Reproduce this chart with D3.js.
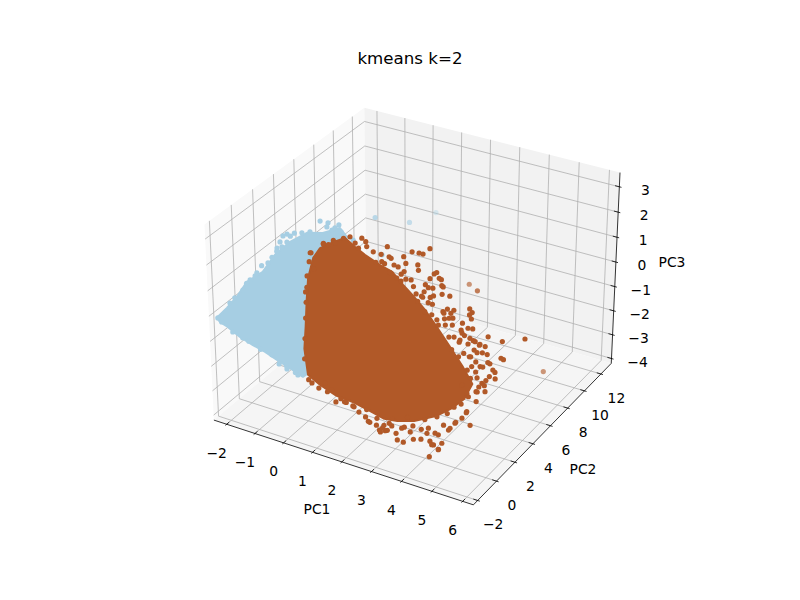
<!DOCTYPE html>
<html>
<head>
<meta charset="utf-8">
<script src="https://cdn.jsdelivr.net/npm/d3@7/dist/d3.min.js"></script>
<style>
html,body{margin:0;padding:0;background:#fff}
svg{display:block}
text{font-family:"DejaVu Sans";fill:#000}
</style>
</head>
<body>
<svg id="chart" width="800" height="600"></svg>
<script>
// ---------- chart text and ticks ----------
const chartTitle = "kmeans k=2";
const pc1Ticks = [-2,-1,0,1,2,3,4,5,6];
const pc2Ticks = [-2,0,2,4,6,8,10,12];
const pc3Ticks = [-4,-3,-2,-1,0,1,2,3];
const pc1Limits = [-2.28,6.17];
const pc2Limits = [-2.13,12.97];
const pc3Limits = [-4.05,3.40];

// ---------- cluster 0 (light blue): outline of the saturated mass ----------
const blueCorePC1 = [-2.40,-2.17,-1.95,-1.75,-1.36,-1.11,-.76,-.34,.10,.55,.79,.95,.69,.35,-.06,-.47,-.85,-1.23,-1.64,-2.04,-2.29];
const blueCorePC2 = [-1.88,-1.52,-1.14,-.69,-.23,.29,.79,1.25,1.53,1.92,1.88,.65,-.96,-1.38,-1.46,-1.55,-1.62,-1.72,-1.81,-1.85,-1.90];
const blueCorePC3 = [-.23,.12,.51,1.02,1.39,1.97,2.43,2.77,2.82,3.03,2.78,.78,-1.41,-1.78,-1.55,-1.34,-1.13,-.96,-.75,-.48,-.35];
// cluster 0: individually visible points
const bluePC1 = [-.04,.19,.50,.41,.18,-.89,-.99,-1.04,-.85,-1.09,-.96,-.48,-.26,.60,.34,-2.11,-2.00,-1.67,-1.52,-1.26,-2.37,-2.24,-.39,-.14,.20,-.64,-1.56,-1.87,.98,1.86,-.37,.24,.38,
-2.08,-1.94,-1.63,-1.39,-1.02,-.85,-.37,-.23,-1.53,-1.94,-.64,-.33];
const bluePC2 = [1.69,1.80,1.96,1.83,1.71,.88,.77,.61,.74,.45,.56,1.16,1.32,1.87,1.74,-1.38,-1.20,-.60,-.35,.02,-1.87,-1.87,-1.58,-1.53,-1.44,-1.55,-1.77,-1.85,1.94,2.18,8.15,9.96,12.44,
-.23,-.23,-.23,-.23,-.23,-.23,-.23,-.23,-.23,-.23,-.23,-.23];
const bluePC3 = [3.18,3.15,3.12,3.02,3.02,2.66,2.59,2.39,2.41,2.19,2.24,2.75,2.81,2.91,2.94,.29,.47,1.09,1.34,1.69,-.23,-.34,-1.46,-1.59,-1.74,-1.20,-.77,-.62,2.70,2.34,1.24,.68,.37,
.43,.75,1.14,1.62,2.07,2.36,3.09,3.25,-1.75,-1.57,-2.09,-2.26];

// ---------- cluster 1 (brown): outline of the saturated mass ----------
const brownCorePC1 = [.63,.66,.84,1.01,1.27,1.52,1.87,2.15,2.46,2.74,3.12,3.49,3.91,4.32,4.65,4.60,4.43,4.17,3.78,3.47,3.21,2.86,2.25,1.67,1.16,.75,.65,.71,.77,.71];
const brownCorePC2 = [-.91,-.33,.42,1.07,1.29,1.53,1.96,2.32,2.48,2.65,2.60,2.70,2.77,2.84,2.86,2.16,1.43,.57,-.48,-1.24,-1.75,-2,-2,-2,-2,-2,-2,-2,-2,-1.65];
const brownCorePC3 = [2.80,3.00,3.05,3.06,2.73,2.43,2.02,1.73,1.28,.89,.53,-.05,-.72,-1.39,-2.00,-2.37,-2.53,-2.64,-2.60,-2.44,-2.26,-2.02,-1.86,-1.81,-1.59,-1.33,-.34,.51,1.59,2.30];
// cluster 1: individually visible points
const brownPC1 = [.53,.59,.77,.68,.83,.99,1.09,1.31,1.41,1.63,1.47,1.87,1.84,1.96,2.01,2.12,2.21,2.14,2.33,2.22,2.32,2.36,2.33,2.47,2.55,2.63,
2.55,2.61,2.93,2.96,2.89,3.06,3.11,2.46,2.56,2.66,2.86,2.94,3.03,3.17,3.21,2.90,2.77,2.92,3.06,3.11,3.25,3.41,3.16,3.42,3.48,3.61,3.58,3.89,3.97,3.94,4.01,3.66,3.88,3.51,4.03,4.12,3.96,4.48,4.79,5.20,4.15,4.28,4.39,4.51,4.41,4.51,4.62,4.91,4.97,4.70,4.86,4.98,4.85,4.90,4.73,4.77,3.98,4.30,4.59,4.43,4.63,2.29,2.86,4.91,
1.68,1.54,1.97,2.29,2.45,2.81,3.13,3.32,3.47,3.69,3.82,3.98,4.12,4.42,4.53,4.40,4.54,4.55,4.61,4.91,4.70,4.73,4.82,4.16,3.67,1.33,4.40,4.18,4.56,3.03,3.86,2.67,
3.00,3.22,3.34,3.51,3.74,3.91,4.02,3.79,4.31,4.08,4.42,3.91,4.25,4.54,4.71,3.56,3.11,2.87,
3.96,4.36,4.70,4.59,4.87,4.19,4.76,4.99,4.48,4.76,5.10,4.59,4.87,4.31,5.39,5.22,4.82,4.48,5.05,4.53,
5.16,4.82,4.42,4.14,3.97,4.03,4.25,3.68,3.40,3.11,4.76,4.99,4.54,4.20,3.80,3.22,2.71,2.83,2.60,2.37,
1.11,1.40,1.85,2.03,2.25,2.71,2.76,3.05,3.16,3.39,3.28,.77,.88,.65,.68,.72,.75,.74,
.56,.64,.41,.77,.94,1.17,1.27,1.38,2.13,2.24,2.41,2.78,1.95,2.64];
const brownPC2 = [-.90,-1.18,-1.95,-.06,.46,.98,1.32,1.83,1.92,2.00,1.83,2.12,2.78,2.59,2.64,2.60,2.74,2.24,2.68,3.28,3.19,2.89,3.80,4.09,4.25,4.72,
3.71,3.59,4.23,4.40,3.92,4.35,4.42,2.76,2.99,2.92,3.53,3.59,3.78,4.28,4.30,3.28,2.85,3.07,3.41,3.60,4.06,4.37,3.33,3.62,3.90,4.17,3.95,4.97,4.98,4.79,4.77,3.91,4.23,3.50,4.35,4.57,3.94,5.08,5.63,6.79,4.18,4.33,4.49,4.67,4.12,4.37,4.54,5.11,5.18,4.36,4.39,4.26,4.05,3.43,3.01,3.51,3.66,3.65,3.88,3.49,3.43,10.13,9.19,10.09,
-2,-2,-2,-2,-2,-2,-2,-2,-1.79,-1.91,-1.70,-1.17,-.83,-.90,-.30,-.41,.02,.68,1.17,1.82,1.62,2.03,2.74,-.19,-1.40,-2,.09,-.40,.81,-2,-1.12,-2,
2.70,2.70,2.70,2.70,2.70,2.70,2.70,2.70,2.70,2.70,2.70,2.70,2.70,2.70,2.70,2.70,2.70,2.70,
2.84,2.84,2.84,2.84,2.84,2.84,2.84,2.84,2.84,2.84,2.84,2.84,2.84,2.84,2.84,2.84,2.84,2.84,2.84,2.84,
.57,.57,.57,.57,.57,.57,.57,.57,.57,.57,.57,.57,.57,.57,.57,.57,.57,.57,.57,.57,
-2,-2,-2,-2,-2,-2,-2,-2,-2,-2,-2,-2,-2,-2,-2,-2,-2,-2,
-.91,-.91,-.91,-.33,-.33,-.33,1.29,1.29,1.29,1.29,1.29,1.29,1.29,1.29];
const brownPC3 = [2.96,2.73,2.06,3.10,3.10,3.07,3.05,2.91,2.78,2.44,2.64,2.10,2.46,2.17,2.11,1.90,1.81,1.70,1.59,2.04,1.84,1.63,2.10,2.00,1.94,2.03,
1.69,1.54,1.30,1.31,1.20,1.13,1.07,1.41,1.34,1.14,1.08,.97,.92,.90,.86,.90,.91,.76,.69,.70,.66,.54,.48,.18,.21,.12,.06,0,-.12,-.16,-.29,-.09,-.32,-.03,-.51,-.58,-.59,-.94,-1.21,-1.36,-.81,-.95,-1.07,-1.18,-1.27,-1.33,-1.42,-1.66,-1.72,-1.65,-1.90,-2.17,-2.05,-2.42,-2.33,-2.16,-.76,-1.31,-1.68,-1.60,-1.96,-1.24,-1.01,-3.95,
-2.07,-1.64,-1.96,-2.04,-2.19,-2.46,-2.65,-2.60,-2.43,-2.86,-2.98,-3.00,-3.07,-3.63,-3.52,-3.35,-3.39,-3.10,-2.98,-3.19,-2.91,-2.78,-2.60,-2.85,-2.59,-1.45,-3.13,-2.97,-3.07,-2.49,-2.77,-2.30,
.95,.77,.34,.20,.54,.40,.17,.09,.07,-.28,-.10,-.34,-.42,-.39,-.20,.01,.38,.70,
-.87,-.87,-.62,-.93,-.37,-1.07,-1.07,-1.19,-1.50,-1.47,-1.69,-1.79,-2.03,-2.16,-1.26,-.98,-2.25,-2.43,-1.91,-2.55,
-2.13,-2.64,-2.91,-3.34,-3.73,-3.85,-3.97,-3.36,-3.33,-3.49,-2.06,-1.85,-2.40,-2.66,-2.92,-3.05,-3.29,-3.85,-3.53,-3.81,
-1.73,-1.77,-1.88,-1.96,-2.02,-1.99,-2.44,-2.21,-2.71,-2.56,-2.40,-1.52,-1.61,-.74,.07,.88,1.50,1.89,
2.97,2.39,2.04,3.20,3.22,3.36,2.88,2.72,2.73,2.41,2.13,1.92,2.36,1.99];

// ---------- 3D projection: elev 30, azim -60, perspective, eye distance 10 ----------
const norm = Math.hypot(4,4,3);
const box = [4,4,3].map(v => v * 1.8294640721620434 / norm);
const e = 30*Math.PI/180, a = -60*Math.PI/180;
const w = [Math.cos(e)*Math.cos(a), Math.cos(e)*Math.sin(a), Math.sin(e)];
const uLen = Math.hypot(w[1], w[0]);
const u = [-w[1]/uLen, w[0]/uLen, 0];
const v = [w[1]*u[2]-w[2]*u[1], w[2]*u[0]-w[0]*u[2], w[0]*u[1]-w[1]*u[0]];
const dot = (p,q) => p[0]*q[0]+p[1]*q[1]+p[2]*q[2];
const dist = 10;

const sx = d3.scaleLinear().domain(pc1Limits).range([0,1]);
const sy = d3.scaleLinear().domain(pc2Limits).range([0,1]);
const sz = d3.scaleLinear().domain(pc3Limits).range([0,1]);
const screenX = d3.scaleLinear().domain([-0.095,0.09]).range([179,641]);
const screenY = d3.scaleLinear().domain([-0.095,0.09]).range([534,72]);

function viewN(n){
  const d = [box[0]*(n[0]-.5), box[1]*(n[1]-.5), box[2]*(n[2]-.5)];
  return [dot(u,d), dot(v,d), dot(w,d)];
}
function projN(n){
  const [U,V,W] = viewN(n);
  return [screenX(U/(dist-W)), screenY(V/(dist-W))];
}
const LO = -1/48, HI = 49/48;

const svg = d3.select("#chart");
const path = pts => "M" + pts.map(p => p.join(",")).join("L");

// ---------- panes ----------
const panes = [
  {fill:"#f9f9f9", c:[[LO,LO,LO],[LO,HI,LO],[LO,HI,HI],[LO,LO,HI]]},
  {fill:"#f2f2f2", c:[[LO,HI,LO],[HI,HI,LO],[HI,HI,HI],[LO,HI,HI]]},
  {fill:"#f5f5f5", c:[[LO,LO,LO],[HI,LO,LO],[HI,HI,LO],[LO,HI,LO]]}
];
svg.append("g").selectAll("path").data(panes).join("path")
  .attr("d", d => path(d.c.map(projN)) + "Z").attr("fill", d => d.fill);

// ---------- grid ----------
const gridLines = [
  ...pc1Ticks.map(t => { const n=sx(t); return [[n,LO,LO],[n,HI,LO],[n,HI,HI]]; }),
  ...pc2Ticks.map(t => { const n=sy(t); return [[HI,n,LO],[LO,n,LO],[LO,n,HI]]; }),
  ...pc3Ticks.map(t => { const n=sz(t); return [[LO,LO,n],[LO,HI,n],[HI,HI,n]]; })
];
svg.append("g").selectAll("path").data(gridLines).join("path")
  .attr("d", d => path(d.map(projN))).attr("fill","none")
  .attr("stroke","#b0b0b0").attr("stroke-width",0.8);

// ---------- axis lines ----------
const axisLines = [
  [[LO,LO,LO],[HI,LO,LO]],
  [[HI,LO,LO],[HI,HI,LO]],
  [[HI,HI,LO],[HI,HI,HI]]
];
svg.append("g").selectAll("path").data(axisLines).join("path")
  .attr("d", d => path(d.map(projN))).attr("fill","none")
  .attr("stroke","#000").attr("stroke-width",0.8);

// ---------- ticks ----------
const OUT = 0.1/12, IN = 0.2/12;
const tickSegs = [
  ...pc1Ticks.map(t => { const n=sx(t); return [[n,LO-OUT,LO],[n,LO+IN,LO]]; }),
  ...pc2Ticks.map(t => { const n=sy(t); return [[HI+OUT,n,LO],[HI-IN,n,LO]]; }),
  ...pc3Ticks.map(t => { const n=sz(t); return [[HI+OUT,HI,n],[HI-IN,HI,n]]; })
];
svg.append("g").selectAll("path").data(tickSegs).join("path")
  .attr("d", d => path(d.map(projN))).attr("fill","none")
  .attr("stroke","#000").attr("stroke-width",0.8);

// ---------- tick labels ----------
const fmt = t => String(t).replace("-","\u2212");
const tickLabels = [
  ...pc1Ticks.map(t => ({t, p:projN([sx(t),LO,LO]), dx:-10, dy:28.5})),
  ...pc2Ticks.map(t => ({t, p:projN([HI,sy(t),LO]), dx:15.5, dy:24})),
  ...pc3Ticks.map(t => ({t, p:projN([HI,HI,sz(t)]), dx:26, dy:3}))
];
svg.append("g").selectAll("text").data(tickLabels).join("text")
  .attr("x", d => d.p[0]+d.dx).attr("y", d => d.p[1]+d.dy).attr("dy","0.36em")
  .attr("text-anchor","middle").attr("font-size","13.89px").text(d => fmt(d.t));

// ---------- cluster marks ----------
const toN = (x,y,z) => [sx(x),sy(y),sz(z)];
const depthAlpha = d3.scaleLinear().domain([-0.5,-0.05]).range([0.3,1]).clamp(true);

function drawCluster(color, coreX, coreY, coreZ, px, py, pz, coreStroke){
  const core = coreX.map((x,i) => projN(toN(x,coreY[i],coreZ[i])));
  svg.append("path").attr("d", path(core)+"Z").attr("fill",color)
    .attr("stroke",color).attr("stroke-width",coreStroke).attr("stroke-linejoin","round");
  const pts = px.map((x,i) => toN(x,py[i],pz[i]));
  svg.append("g").selectAll("circle").data(pts).join("circle")
    .attr("cx", d => projN(d)[0]).attr("cy", d => projN(d)[1]).attr("r",2.6)
    .attr("fill",color).attr("fill-opacity", d => depthAlpha(viewN(d)[2]));
}
drawCluster("#a6cee3", blueCorePC1, blueCorePC2, blueCorePC3, bluePC1, bluePC2, bluePC3, 2);
drawCluster("#b15928", brownCorePC1, brownCorePC2, brownCorePC3, brownPC1, brownPC2, brownPC3, 2);

// ---------- titles ----------
const labels = [
  {s:"PC1", x:317, y:509}, {s:"PC2", x:583, y:469}, {s:"PC3", x:672, y:262}
];
svg.append("g").selectAll("text").data(labels).join("text")
  .attr("x", d => d.x).attr("y", d => d.y).attr("dy","0.36em")
  .attr("text-anchor","middle").attr("font-size","13.89px").text(d => d.s);
svg.append("text").attr("x",410).attr("y",63.7).attr("text-anchor","middle")
  .attr("font-size","16.67px").text(chartTitle);
</script>
</body>
</html>
